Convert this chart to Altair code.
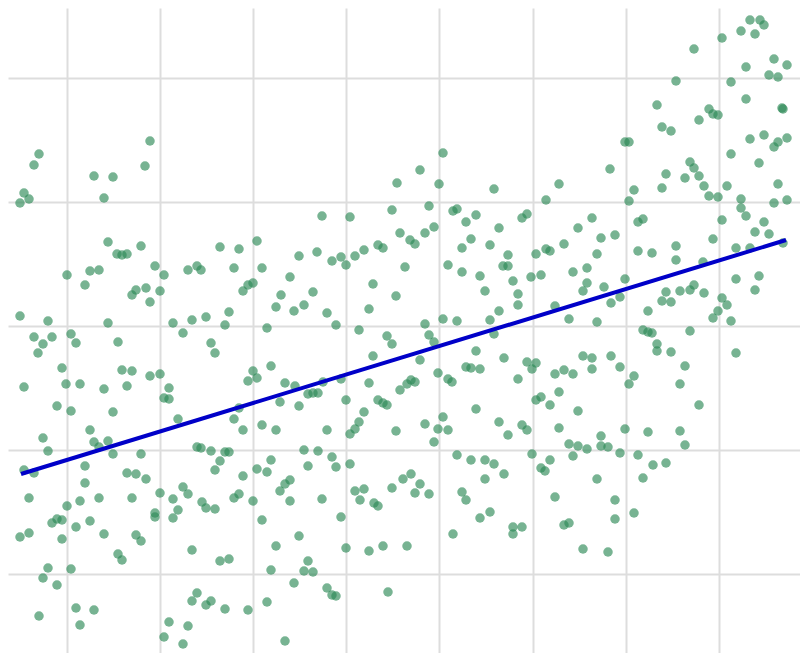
import altair as alt
import pandas as pd

# Point readings (horizontal position, vertical position read top-down)
xs = [
20,24,29,34,39,94,113,104,145,150,
397,322,350,392,
443,420,439,494,429,453,457,466,476,522,527,546,559,592,610,
634,629,643,638,625,629,657,662,671,666,662,685,690,694,699,704,709,718,727,676,694,699,709,713,718,722,731,741,750,755,760,764,746,774,787,769,778,746,782,783,731,750,764,774,778,787,759,778,741,741,746,774,787,722,764,
20,48,34,43,52,38,67,85,90,99,108,117,122,127,141,155,164,188,197,201,132,136,146,160,150,108,71,76,118,173,183,192,62,24,66,80,104,122,132,127,150,160,169,164,169,57,71,113,178,90,43,94,108,
206,220,239,257,234,262,243,248,253,229,225,211,215,267,276,281,290,294,304,313,299,317,332,341,346,355,364,378,383,400,405,373,396,369,327,336,359,387,392,373,271,253,257,248,285,295,308,313,318,323,341,369,280,299,239,234,243,262,276,327,346,378,383,387,364,359,355,350,396,400,
410,415,425,434,499,578,601,448,462,471,490,462,480,485,503,508,508,513,518,518,499,490,494,536,546,550,564,531,541,573,587,597,587,583,604,555,569,597,443,457,425,429,434,420,476,466,471,480,504,527,532,536,518,438,448,452,407,411,415,583,592,592,555,564,573,559,536,541,550,578,476,443,425,438,448,499,508,522,527,559,601,434,
615,755,769,713,638,652,676,676,703,736,750,783,625,611,620,666,662,671,680,690,694,704,648,722,727,718,713,731,736,759,755,643,648,652,657,657,671,690,736,611,620,634,629,685,680,699,625,648,680,
48,99,113,141,24,34,85,85,29,67,80,99,127,136,146,132,160,173,183,188,197,201,178,173,155,155,57,52,62,76,90,20,29,62,104,136,141,192,118,122,48,43,71,57,197,192,39,76,94,80,169,188,164,183,
211,225,229,220,215,243,257,267,271,304,318,332,336,308,350,280,285,290,290,234,239,253,202,206,215,322,355,364,360,374,378,392,403,341,262,299,276,220,229,308,304,313,271,294,327,332,336,346,369,383,388,206,211,225,248,267,285,
411,420,415,429,457,471,485,494,485,504,462,466,480,490,453,513,522,513,532,541,545,550,569,578,573,587,601,597,555,564,569,583,407,
608,685,620,638,653,666,643,615,615,634,608,
]
ys = [
203,193,199,165,154,176,177,198,166,141,
183,216,217,210,
153,170,184,189,206,211,209,222,215,218,214,200,184,218,169,
190,201,219,222,142,142,105,127,131,174,188,178,162,168,176,186,196,197,186,81,49,120,109,114,115,38,82,31,20,34,20,25,67,59,65,75,77,99,108,109,154,139,135,147,142,138,163,184,199,208,216,203,200,220,222,
316,321,337,344,337,353,275,285,271,270,242,254,255,254,246,266,275,270,266,270,295,290,288,291,302,323,334,343,342,323,333,320,368,387,384,384,389,370,371,386,376,374,388,398,399,406,411,412,419,430,438,442,441,
317,247,249,241,268,268,291,285,283,312,325,343,353,328,307,295,277,311,305,292,256,252,261,257,265,256,250,245,248,233,267,284,296,309,313,325,330,336,344,356,366,371,378,381,383,386,394,393,393,382,379,383,402,406,408,419,430,425,430,430,400,400,403,405,412,422,429,434,431,390,
240,244,233,227,228,228,238,265,248,239,245,272,276,291,266,266,255,281,294,305,311,320,334,254,249,251,244,277,275,272,268,254,283,291,287,306,319,322,319,321,324,335,342,360,351,367,368,369,358,362,369,363,379,373,379,382,384,380,382,356,358,369,374,370,374,392,400,397,405,411,409,417,424,429,430,422,435,425,430,428,436,442,
235,232,234,239,251,253,246,260,262,248,248,243,279,303,297,292,301,302,291,290,285,293,311,298,305,311,318,321,279,276,290,330,332,333,344,351,352,331,353,356,367,376,384,366,384,405,429,432,431,
451,447,454,454,470,473,466,483,498,506,501,498,473,474,479,498,493,499,487,494,447,448,510,518,513,517,519,523,520,527,521,537,533,539,534,535,541,550,554,560,568,578,569,585,593,601,616,608,610,625,622,626,637,644,
451,452,452,461,470,476,469,472,460,450,451,457,467,466,464,491,484,480,501,498,494,501,502,508,509,499,491,489,500,503,506,488,479,517,520,536,546,561,559,561,571,572,570,583,588,595,596,548,551,546,592,605,601,609,610,602,641,
474,484,493,494,455,460,460,464,479,474,492,500,518,512,534,527,527,534,454,468,471,460,444,446,456,449,446,479,497,525,523,549,546,
447,445,453,455,465,463,478,500,519,513,552,
]

# Fitted trend line (end points)
fit_x = [21, 786]
fit_y = [474, 240]

grid_x = [67, 160.1, 253.2, 346.3, 439.4, 532.5, 625.6, 718.7]
grid_y = [78, 201.5, 326, 449.5, 574]

df = pd.DataFrame({"x": xs, "y": ys})
fit_df = pd.DataFrame({"x": fit_x, "y": fit_y})

xscale = alt.Scale(domain=[8, 800], nice=False, zero=False)
yscale = alt.Scale(domain=[8, 653], nice=False, zero=False, reverse=True)

ax_x = alt.Axis(values=grid_x, labels=False, ticks=False, domain=False, title=None,
                grid=True, gridColor="#dddddd", gridWidth=2)
ax_y = alt.Axis(values=grid_y, labels=False, ticks=False, domain=False, title=None,
                grid=True, gridColor="#dddddd", gridWidth=2)

points = alt.Chart(df).mark_circle(size=90, color="#2e8b57", opacity=0.65).encode(
    x=alt.X("x:Q", scale=xscale, axis=ax_x),
    y=alt.Y("y:Q", scale=yscale, axis=ax_y),
)

line = alt.Chart(fit_df).mark_line(color="#0000c8", strokeWidth=4).encode(
    x=alt.X("x:Q", scale=xscale),
    y=alt.Y("y:Q", scale=yscale),
)

chart = alt.layer(points, line).properties(
    width=792, height=645, padding=0, autosize=alt.AutoSizeParams(type="none")
).configure_view(stroke=None)

chart.save("out.html", embed_options={"renderer": "svg", "actions": False})
